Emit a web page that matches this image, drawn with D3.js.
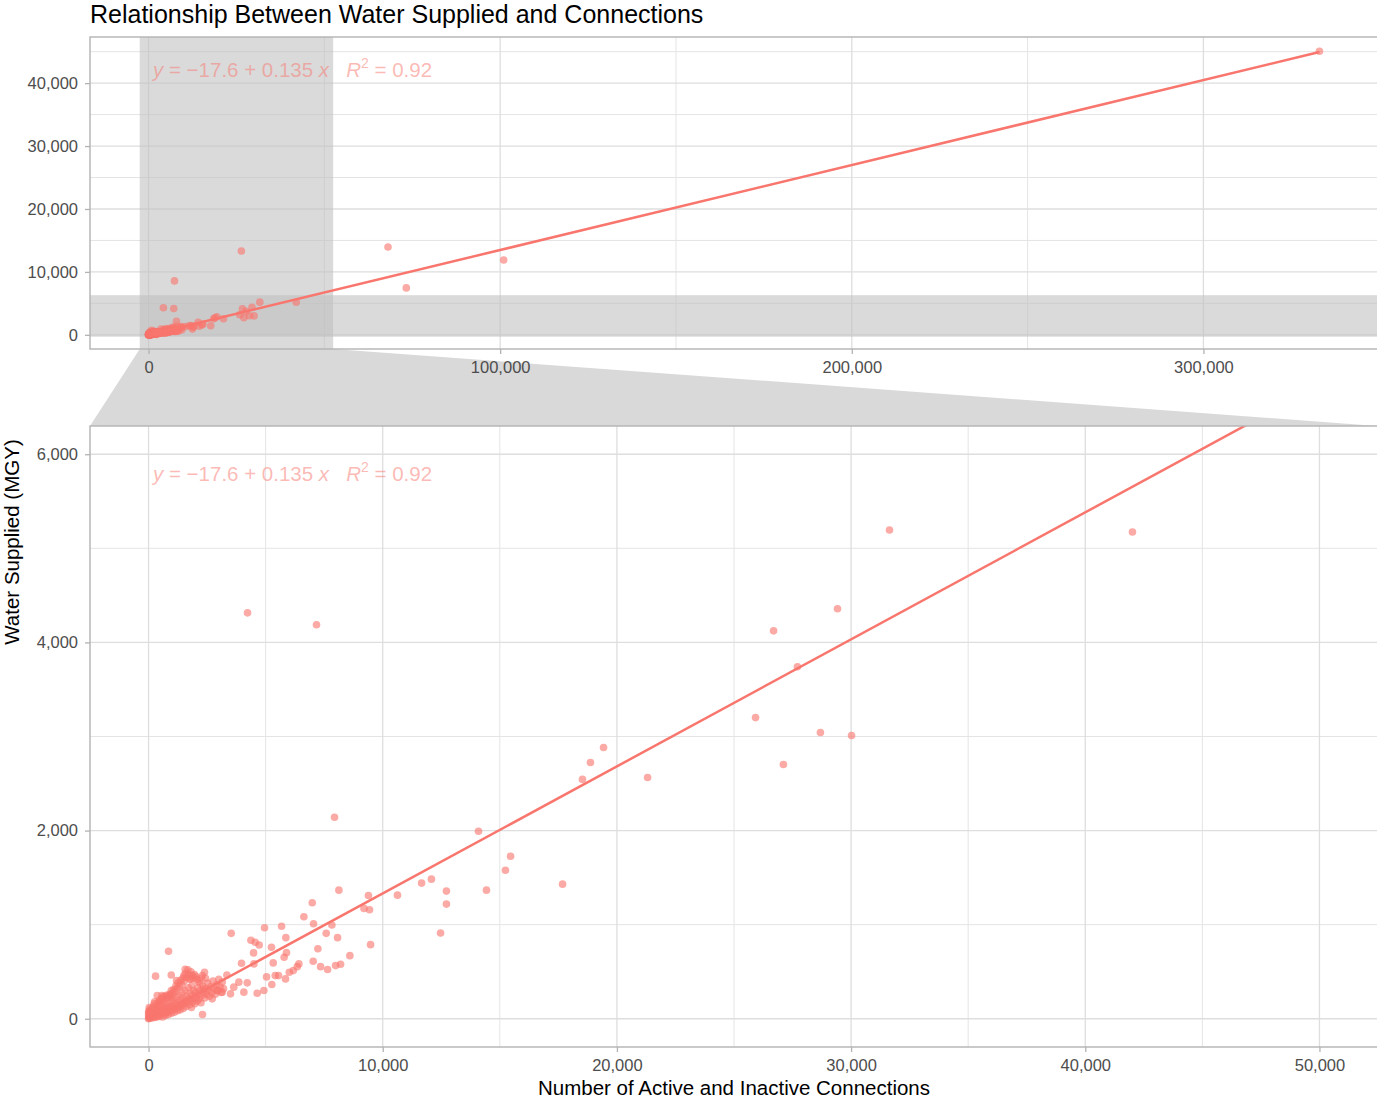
<!DOCTYPE html>
<html>
<head>
<meta charset="utf-8">
<script src="https://cdn.jsdelivr.net/npm/d3@7"></script>
<style>
  body { margin: 0; background: #fff; }
  text { font-family: "Liberation Sans", Arial, sans-serif; }
  .grid-major { stroke: #dedede; stroke-width: 1.3; }
  .grid-minor { stroke: #e4e4e4; stroke-width: 1; }
  .panel-border { fill: none; stroke: #b3b3b3; stroke-width: 1.4; }
  .axis path.domain { display: none; }
  .axis line { stroke: #b3b3b3; stroke-width: 1.3; }
  .axis text { fill: #4d4d4d; font-size: 16.5px; font-family: "Liberation Sans", Arial, sans-serif; }
  .axis-title { font-size: 20.5px; fill: #000; }
  .plot-title { font-size: 25px; fill: #000; }
  .dot { fill: #F8766D; fill-opacity: 0.62; }
  .fit-line { stroke: #F8766D; stroke-width: 2.5; fill: none; }
  .eq { fill: #F8766D; fill-opacity: 0.5; font-size: 20.5px; white-space: pre; }
  .zoom-band { fill: #bfbfbf; fill-opacity: 0.58; }
  .zoom-link { fill: #d9d9d9; }
</style>
</head>
<body>
<svg id="chart" width="1377" height="1101"></svg>
<script>
/* ---- data: [connections, water supplied (MGY)] ---- */
// large systems, only visible in the full view
const farPoints = [
  [26400, 13330], [7380, 8570], [68100, 13960], [73300, 7460],
  [101000, 11900], [333000, 45080]
];

// sparse mid-size systems
const midPoints = [
  [4227, 4314], [7173, 4187], [31640, 5194], [42015, 5173], [29420, 4357],
  [26690, 4123], [27710, 3742], [25920, 3201], [28690, 3042], [30020, 3010],
  [27110, 2703], [19430, 2883], [18870, 2724], [18530, 2544], [21310, 2565],
  [7942, 2141], [14090, 1993], [15460, 1728], [15240, 1579], [17680, 1431],
  [14430, 1367], [12080, 1484], [11660, 1442], [12720, 1357], [12720, 1219],
  [12470, 912], [10630, 1314], [9390, 1310], [9200, 1173], [9437, 1158],
  [9480, 788], [8127, 1367], [6990, 1233], [6633, 1085], [7045, 1010],
  [7828, 996], [7587, 908], [8071, 862], [8596, 671], [7231, 745],
  [7030, 612], [7345, 554], [7645, 523], [7987, 565], [8200, 580],
  [5680, 983], [4953, 968], [5863, 862], [5890, 703], [5790, 654],
  [5323, 594], [4555, 813], [4725, 784], [4370, 834], [4485, 700],
  [5250, 760], [3530, 908], [854, 718], [300, 453], [6420, 583],
  [6350, 554], [6180, 512], [6010, 495], [5850, 424], [5550, 459],
  [5410, 459], [5265, 364], [5040, 445], [4925, 300], [4640, 272],
  [4215, 382], [4070, 283], [4500, 583], [3970, 590], [3345, 466],
  [970, 466], [1195, 406], [1510, 459], [1565, 527], [1795, 424],
  [1850, 353], [2390, 495], [2435, 431], [2335, 311], [370, 247],
  [570, 247], [455, 177], [2305, 46], [2720, 212], [2930, 300],
  [3145, 283], [3500, 265], [3640, 336], [3855, 389]
];

// dense cluster of small systems near the origin
const clusterPoints = [
  [0, 0], [20, 10], [40, 30], [60, 5], [80, 20], [100, 15], [120, 40], [150, 25],
  [180, 10], [200, 60], [220, 35], [250, 20], [270, 90], [300, 45], [320, 15],
  [350, 70], [380, 30], [400, 110], [420, 55], [450, 25], [480, 80], [500, 40],
  [520, 130], [550, 60], [580, 95], [600, 20], [620, 75], [650, 140], [680, 50],
  [700, 100], [720, 35], [750, 120], [780, 70], [800, 160], [830, 90], [850, 45],
  [880, 130], [900, 75], [930, 110], [950, 180], [980, 60], [1000, 140], [1030, 95],
  [1060, 200], [1080, 120], [1100, 70], [1130, 160], [1150, 105], [1180, 230],
  [1200, 135], [1230, 85], [1250, 175], [1280, 120], [1300, 250], [1320, 150],
  [1350, 95], [1380, 200], [1400, 140], [1430, 280], [1450, 170], [1480, 110],
  [1500, 220], [1530, 160], [1560, 300], [1580, 190], [1600, 130], [1630, 240],
  [1660, 175], [1700, 330], [1720, 210], [1750, 150], [1780, 270], [1800, 200],
  [1830, 120], [1860, 250], [1890, 180], [1920, 300], [1950, 215], [1980, 160],
  [2000, 280], [2040, 230], [2080, 190], [2100, 330], [2130, 260], [2160, 210],
  [2200, 300], [2240, 170], [2280, 250], [2320, 350], [2360, 280], [2400, 220],
  [2440, 320], [2480, 260], [2520, 380], [2560, 300], [2600, 240], [2650, 340],
  [2700, 280], [2750, 400], [2800, 320], [2850, 260], [2900, 360], [2950, 300],
  [3000, 420], [3050, 340], [3100, 280], [3150, 390], [3200, 320],
  [10, 80], [30, 120], [50, 60], [70, 100], [0, 40], [5, 70], [15, 25], [90, 50],
  [130, 70], [160, 110], [210, 130], [240, 160], [260, 180], [330, 100], [360, 140],
  [410, 170], [460, 150], [470, 200], [530, 190], [560, 210], [610, 230], [640, 180],
  [690, 240], [740, 210], [760, 250], [810, 220], [860, 240], [890, 260], [920, 250],
  [970, 300], [990, 230], [1020, 270], [1070, 310], [1120, 290], [1170, 350],
  [1210, 320], [1260, 380], [1310, 340], [1370, 410], [1420, 360], [1470, 430],
  [1520, 400], [1570, 480], [1620, 440], [1680, 520], [1730, 470], [1760, 420],
  [1810, 500], [1870, 460], [1910, 430], [1960, 470], [2020, 450], [2060, 420],
  [2120, 400], [2190, 380], [2250, 430], [2300, 460]
];

// linear fit reported on the chart
const fitIntercept = -17.6;
const fitSlope = 0.135;
const fitR2 = 0.92;

// zoom window
const zoomX = [0, 50000];
const zoomY = [0, 6000];

// ticks
const xTicksFull = [0, 100000, 200000, 300000];
const xMinorFull = [50000, 150000, 250000];
const yTicksFull = [0, 10000, 20000, 30000, 40000];
const yMinorFull = [5000, 15000, 25000, 35000, 45000];
const xTicksZoom = [0, 10000, 20000, 30000, 40000, 50000];
const xMinorZoom = [5000, 15000, 25000, 35000, 45000];
const yTicksZoom = [0, 2000, 4000, 6000];
const yMinorZoom = [1000, 3000, 5000];

const titleText = "Relationship Between Water Supplied and Connections";
const xTitle = "Number of Active and Inactive Connections";
const yTitle = "Water Supplied (MGY)";

/* ---- layout ---- */
const svg = d3.select("#chart");
const fullPanel = { x0: 90, x1: 1378, y0: 37, y1: 349 };
const zoomPanel = { x0: 90, x1: 1378, y0: 426, y1: 1047 };

const points = farPoints.concat(midPoints, clusterPoints).map(([x, y]) => ({ x, y }));

// ggplot-style 5% expansion
const expand = ext => {
  const pad = (ext[1] - ext[0]) * 0.05;
  return [ext[0] - pad, ext[1] + pad];
};

const xFull = d3.scaleLinear().domain(expand(d3.extent(points, d => d.x))).range([fullPanel.x0, fullPanel.x1]);
const yFull = d3.scaleLinear().domain(expand(d3.extent(points, d => d.y))).range([fullPanel.y1, fullPanel.y0]);
const xZoom = d3.scaleLinear().domain(expand(zoomX)).range([zoomPanel.x0, zoomPanel.x1]);
const yZoom = d3.scaleLinear().domain(expand(zoomY)).range([zoomPanel.y1, zoomPanel.y0]);

const fmt = d3.format(",");
const xRange = d3.extent(points, d => d.x);
const fitData = xRange.map(x => ({ x, y: fitIntercept + fitSlope * x }));

// link between the zoom window and the zoomed panel
const zx = expand(zoomX), zy = expand(zoomY);
svg.append("polygon")
  .attr("class", "zoom-link")
  .attr("points", [
    [xFull(zx[0]), fullPanel.y1], [xFull(zx[1]), fullPanel.y1],
    [zoomPanel.x1, zoomPanel.y0], [zoomPanel.x0, zoomPanel.y0]
  ].map(p => p.join(",")).join(" "));

function drawPanel(id, panel, xs, ys, ticks, showBands) {
  const w = panel.x1 - panel.x0, h = panel.y1 - panel.y0;
  svg.append("clipPath").attr("id", id)
    .append("rect").attr("x", panel.x0).attr("y", panel.y0).attr("width", w).attr("height", h);

  const g = svg.append("g");
  g.append("rect").attr("x", panel.x0).attr("y", panel.y0).attr("width", w).attr("height", h).attr("fill", "#fff");

  // Grid lines
  ticks.xMinor.forEach(v => g.append("line").attr("class", "grid-minor")
    .attr("x1", xs(v)).attr("x2", xs(v)).attr("y1", panel.y0).attr("y2", panel.y1));
  ticks.yMinor.forEach(v => g.append("line").attr("class", "grid-minor")
    .attr("x1", panel.x0).attr("x2", panel.x1).attr("y1", ys(v)).attr("y2", ys(v)));
  ticks.x.forEach(v => g.append("line").attr("class", "grid-major")
    .attr("x1", xs(v)).attr("x2", xs(v)).attr("y1", panel.y0).attr("y2", panel.y1));
  ticks.y.forEach(v => g.append("line").attr("class", "grid-major")
    .attr("x1", panel.x0).attr("x2", panel.x1).attr("y1", ys(v)).attr("y2", ys(v)));

  const inner = g.append("g").attr("clip-path", `url(#${id})`);

  // zoom window bands
  if (showBands) {
    inner.append("rect").attr("class", "zoom-band")
      .attr("x", xs(zx[0])).attr("width", xs(zx[1]) - xs(zx[0]))
      .attr("y", panel.y0).attr("height", h);
    inner.append("rect").attr("class", "zoom-band")
      .attr("x", panel.x0).attr("width", w)
      .attr("y", ys(zy[1])).attr("height", ys(zy[0]) - ys(zy[1]));
  }

  inner.selectAll(".dot").data(points).enter()
    .append("circle")
    .attr("class", "dot")
    .attr("r", 3.8)
    .attr("cx", d => xs(d.x))
    .attr("cy", d => ys(d.y));

  const line = d3.line().x(d => xs(d.x)).y(d => ys(d.y));
  inner.append("path").datum(fitData).attr("class", "fit-line").attr("d", line);

  // regression equation
  const eq = inner.append("text").attr("class", "eq")
    .attr("x", panel.x0 + 63).attr("y", panel.y0 + ticks.eqOffset);
  const sign = fitIntercept < 0 ? "\u2212" : "";
  eq.append("tspan").attr("font-style", "italic").text("y");
  eq.append("tspan").text(` = ${sign}${Math.abs(fitIntercept)} + ${fitSlope} `);
  eq.append("tspan").attr("font-style", "italic").text("x");
  eq.append("tspan").text("   ");
  eq.append("tspan").attr("font-style", "italic").text("R");
  eq.append("tspan").attr("font-size", "14px").attr("dy", -9).text("2");
  eq.append("tspan").attr("dy", 9).text(` = ${fitR2}`);

  g.append("rect").attr("class", "panel-border")
    .attr("x", panel.x0).attr("y", panel.y0).attr("width", w).attr("height", h);

  svg.append("g").attr("class", "axis")
    .attr("transform", `translate(0,${panel.y1})`)
    .call(d3.axisBottom(xs).tickValues(ticks.x).tickFormat(fmt).tickSize(5).tickPadding(7).tickSizeOuter(0));
  svg.append("g").attr("class", "axis")
    .attr("transform", `translate(${panel.x0},0)`)
    .call(d3.axisLeft(ys).tickValues(ticks.y).tickFormat(fmt).tickSize(5).tickPadding(7).tickSizeOuter(0));
}

drawPanel("clip-full", fullPanel, xFull, yFull,
  { x: xTicksFull, xMinor: xMinorFull, y: yTicksFull, yMinor: yMinorFull, eqOffset: 40 }, true);
drawPanel("clip-zoom", zoomPanel, xZoom, yZoom,
  { x: xTicksZoom, xMinor: xMinorZoom, y: yTicksZoom, yMinor: yMinorZoom, eqOffset: 55 }, false);

// Titles
svg.append("text").attr("class", "plot-title")
  .attr("x", fullPanel.x0).attr("y", 23)
  .text(titleText);

svg.append("text").attr("class", "axis-title")
  .attr("x", (zoomPanel.x0 + zoomPanel.x1) / 2).attr("y", 1095)
  .attr("text-anchor", "middle")
  .text(xTitle);

svg.append("text").attr("class", "axis-title")
  .attr("transform", "rotate(-90)")
  .attr("x", -(fullPanel.y0 + zoomPanel.y1) / 2).attr("y", 18.5)
  .attr("text-anchor", "middle")
  .text(yTitle);
</script>
</body>
</html>
